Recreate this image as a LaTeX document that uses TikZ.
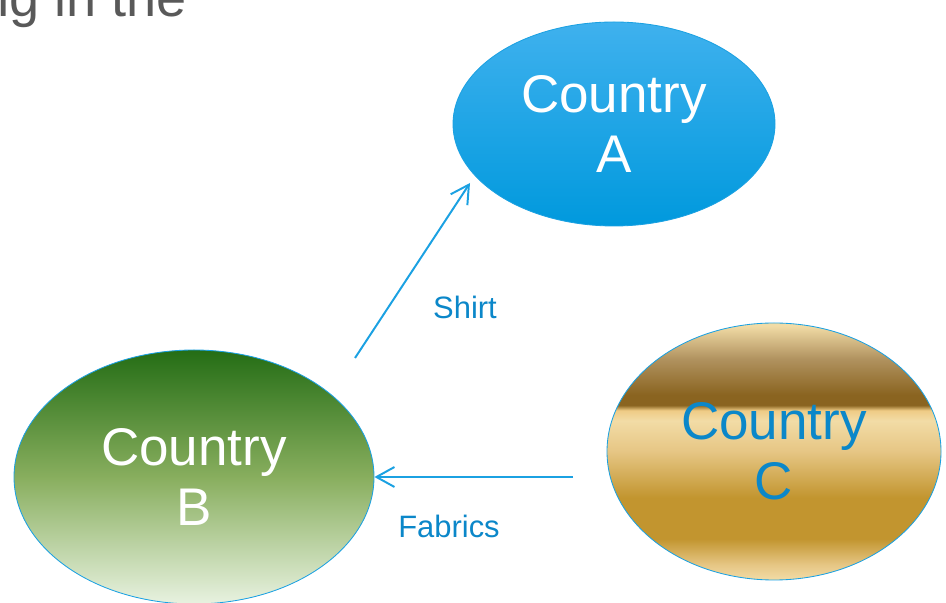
\documentclass[tikz,border=0pt]{standalone}
\usepackage{fontspec}
\setmainfont{Liberation Sans}
\usepackage{xcolor}
\usetikzlibrary{shapes.geometric,arrows.meta}

\definecolor{lineblue}{HTML}{1BA1E2}
\definecolor{labelblue}{HTML}{0B87C9}
\definecolor{headgray}{HTML}{595959}
\definecolor{aTop}{HTML}{3FB1EE}
\definecolor{aBottom}{HTML}{0099DD}
\definecolor{bTop}{HTML}{246D15}
\definecolor{bMid}{HTML}{88AE5E}
\definecolor{bBottom}{HTML}{E8F2E0}
\definecolor{goldPale}{HTML}{F2DCA6}
\definecolor{goldLight}{HTML}{E6C684}
\definecolor{goldDeep}{HTML}{C2952F}
\definecolor{goldBright}{HTML}{EFCB85}
\definecolor{goldBrown}{HTML}{8A6420}
\definecolor{goldDust}{HTML}{B0925F}

\pgfdeclareverticalshading{goldband}{100bp}{
    color(0bp)=(goldPale); color(25bp)=(goldPale); color(28bp)=(goldLight);
    color(33bp)=(goldDeep); color(41bp)=(goldDeep); color(50bp)=(goldLight);
    color(56bp)=(goldPale); color(58bp)=(goldBright); color(59bp)=(goldBrown);
    color(61bp)=(goldBrown); color(68bp)=(goldDust); color(74.5bp)=(goldPale);
    color(100bp)=(goldPale)}

\begin{document}
\begin{tikzpicture}[
    country/.style={ellipse, draw=lineblue, line width=0.6pt, inner sep=0pt, align=center, font=\fontsize{37.7}{43}\selectfont},
    trade/.style={font=\fontsize{22}{26}\selectfont, text=labelblue},
    flow/.style={draw=lineblue, line width=1.4pt, -{Straight Barb[length=12.8pt,width=14.2pt,line width=1.4pt]}}
]
    \useasboundingbox (0,0) rectangle (23.65,15.075);
    \clip (0,0) rectangle (23.65,15.075);

    % Heading cut at the top
    \node[anchor=base east, text=headgray, font=\fontsize{38.5}{44}\selectfont] (heading) at (4.8, 14.65) {ing in the};

    % Countries
    \node[country, top color=aTop, bottom color=aBottom, text=white, minimum width=8.05cm, minimum height=5.1cm] (countryA) at (15.35, 11.975) {Country\\A};
    \node[country, top color=bTop, bottom color=bBottom, middle color=bMid, text=white, minimum width=9cm, minimum height=6.35cm] (countryB) at (4.85, 3.15) {Country\\B};
    \node[country, shading=goldband, text=labelblue, minimum width=8.35cm, minimum height=6.425cm] (countryC) at (19.35, 3.7875) {Country\\C};

    % Trade flows
    \coordinate (shirtTail) at (8.875, 6.125);
    \coordinate (shirtHead) at (11.75, 10.5);
    \coordinate (fabricsTail) at (14.325, 3.15);
    \draw[flow] (shirtTail) -- (shirtHead);
    \draw[flow] (fabricsTail) -- (countryB.east);

    % Goods
    \node[trade] (shirt) at (11.625, 7.4) {Shirt};
    \node[trade] (fabrics) at (11.225, 1.925) {Fabrics};
\end{tikzpicture}
\end{document}
